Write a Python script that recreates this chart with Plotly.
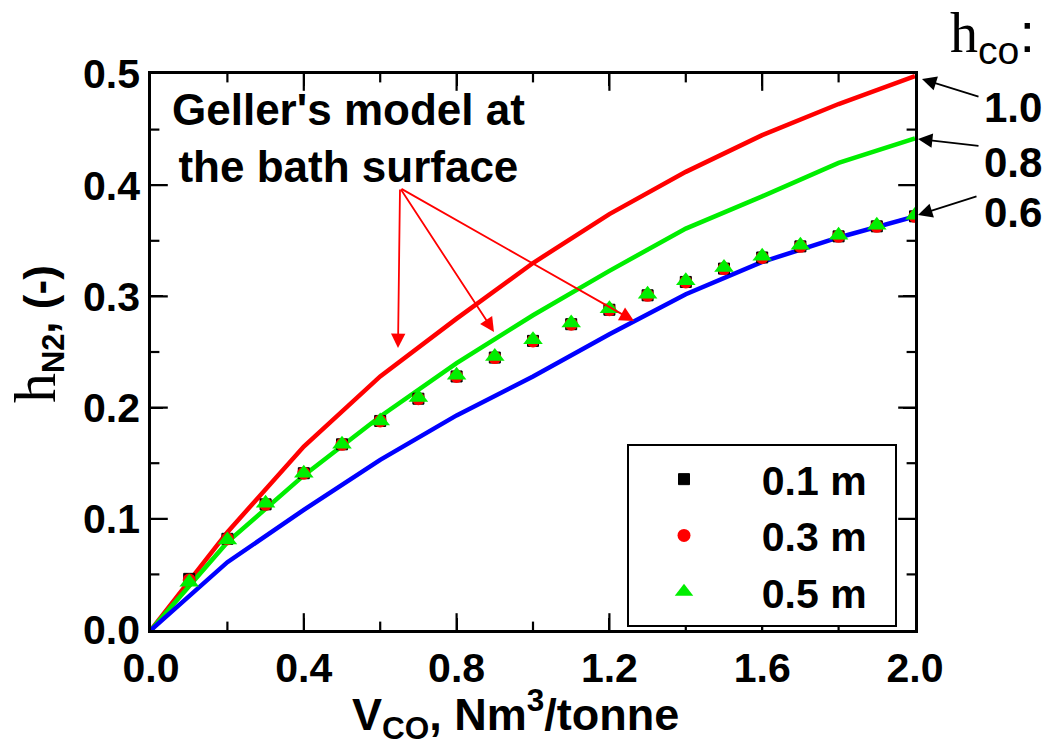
import plotly.graph_objects as go

# ---- data ----
v_line = [0.0, 0.2, 0.4, 0.6, 0.8, 1.0, 1.2, 1.4, 1.6, 1.8, 2.0]
geller_10 = [0.0, 0.088, 0.165, 0.228, 0.280, 0.330, 0.374, 0.412, 0.445, 0.473, 0.498]
geller_08 = [0.0, 0.079, 0.139, 0.192, 0.240, 0.283, 0.323, 0.361, 0.390, 0.420, 0.442]
geller_06 = [0.0, 0.061, 0.108, 0.153, 0.193, 0.228, 0.266, 0.302, 0.331, 0.353, 0.372]

v_pts = [0.1, 0.2, 0.3, 0.4, 0.5, 0.6, 0.7, 0.8, 0.9, 1.0,
         1.1, 1.2, 1.3, 1.4, 1.5, 1.6, 1.7, 1.8, 1.9, 2.0]
h_01m = [0.046, 0.082, 0.113, 0.141, 0.167, 0.188, 0.208, 0.228, 0.245, 0.260,
         0.275, 0.288, 0.301, 0.313, 0.325, 0.335, 0.345, 0.354, 0.363, 0.372]
h_03m = [0.045, 0.082, 0.113, 0.141, 0.167, 0.188, 0.208, 0.228, 0.245, 0.260,
         0.275, 0.288, 0.301, 0.313, 0.325, 0.335, 0.345, 0.354, 0.363, 0.372]
h_05m = [0.043, 0.081, 0.114, 0.141, 0.167, 0.188, 0.209, 0.229, 0.246, 0.261,
         0.276, 0.289, 0.302, 0.314, 0.326, 0.336, 0.346, 0.355, 0.364, 0.373]

x_range = [0.0, 2.0]
y_range = [0.0, 0.5]
x_ticks = [0.0, 0.4, 0.8, 1.2, 1.6, 2.0]
x_minor_ticks = [0.2, 0.6, 1.0, 1.4, 1.8]
y_ticks = [0.0, 0.1, 0.2, 0.3, 0.4, 0.5]
y_minor_ticks = [0.05, 0.15, 0.25, 0.35, 0.45]
hco_labels = ["1.0", "0.8", "0.6"]

SANS = "Liberation Sans, Arial, sans-serif"

fig = go.Figure()

# tick marks on all four sides, drawn as clipped line markers on the axes
def tick_trace(xs, ys, symbol, size):
    return go.Scatter(x=xs, y=ys, mode="markers", showlegend=False, hoverinfo="skip",
                      cliponaxis=True,
                      marker=dict(symbol=symbol, size=size, color="black",
                                  line=dict(color="black", width=2.2)))

for vals, sz in [(x_ticks[1:-1], 24), (x_minor_ticks, 12)]:
    for yv in y_range:
        fig.add_trace(tick_trace(vals, [yv] * len(vals), "line-ns", sz))
for vals, sz in [(y_ticks[1:-1], 24), (y_minor_ticks, 12)]:
    for xv in x_range:
        fig.add_trace(tick_trace([xv] * len(vals), vals, "line-ew", sz))

for ys, col in [(geller_10, "#ff0000"), (geller_08, "#00ee00"), (geller_06, "#0000ff")]:
    fig.add_trace(go.Scatter(x=v_line, y=ys, mode="lines", showlegend=False,
                             line=dict(color=col, width=4.5)))

fig.add_trace(go.Scatter(x=v_pts, y=h_01m, mode="markers", name="0.1 m",
                         marker=dict(symbol="square", size=11, color="black",
                                     line=dict(color="black", width=1))))
fig.add_trace(go.Scatter(x=v_pts, y=h_03m, mode="markers", name="0.3 m",
                         marker=dict(symbol="circle", size=13, color="#ff0000",
                                     line=dict(width=0))))
fig.add_trace(go.Scatter(x=v_pts, y=h_05m, mode="markers", name="0.5 m",
                         marker=dict(symbol="triangle-up", size=17, color="#00ee00",
                                     line=dict(width=0))))

axis_common = dict(
    showline=True, linecolor="black", linewidth=2.5,
    mirror="ticks", ticks="inside", ticklen=12, tickwidth=2, tickcolor="black",
    tickfont=dict(family=SANS, size=41, color="black"),
)

fig.update_xaxes(range=x_range, tickvals=x_ticks,
                 ticktext=[f"<b>{v:.1f}</b>" for v in x_ticks], **axis_common)
fig.update_yaxes(range=y_range, tickvals=y_ticks,
                 ticktext=[f"<b>{v:.1f}</b>" for v in y_ticks], **axis_common)

ann = []
# axis titles
ann.append(dict(xref="paper", yref="paper", x=(515 - 151) / 764, y=(630 - 714) / 556,
                xanchor="center", yanchor="middle", showarrow=False,
                text="<b>V<sub>CO</sub>, Nm<sup>3</sup>/tonne</b>",
                font=dict(family=SANS, size=45, color="black")))
ann.append(dict(xref="paper", yref="paper", x=(36 - 151) / 764, y=(630 - 334) / 556,
                xanchor="center", yanchor="middle", showarrow=False, textangle=-90,
                text='<span style="font-family:Liberation Serif;font-size:60px">h</span>'
                     '<b><sub>N2</sub>, (-)</b>',
                font=dict(family=SANS, size=44, color="black")))
# h_co header
ann.append(dict(xref="paper", yref="paper", x=(992 - 151) / 764, y=(630 - 37) / 556,
                xanchor="center", yanchor="middle", showarrow=False,
                text='<span style="font-family:Liberation Serif">h</span><sub>co</sub>:',
                font=dict(family=SANS, size=56, color="black")))
# right labels
for lab, yc in zip(hco_labels, [108, 162, 212]):
    ann.append(dict(xref="paper", yref="paper", x=(1013 - 151) / 764, y=(630 - yc) / 556,
                    xanchor="center", yanchor="middle", showarrow=False, text=f"<b>{lab}</b>",
                    font=dict(family=SANS, size=42, color="black")))
# black arrows (head px, tail px)
for (hx, hy), (tx, ty) in [((922, 79), (980, 97)), ((918, 139), (980, 146)), ((918, 215), (978, 196))]:
    ann.append(dict(xref="paper", yref="paper", x=(hx - 151) / 764, y=(630 - hy) / 556,
                    ax=tx - hx, ay=ty - hy, text="", showarrow=True, arrowhead=2,
                    arrowsize=1.6, arrowwidth=1.8, arrowcolor="black", standoff=0))
# Geller text
ann.append(dict(xref="paper", yref="paper", x=(348 - 151) / 764, y=(630 - 138) / 556,
                xanchor="center", yanchor="middle", showarrow=False,
                text="<b>Geller's model at<br>the bath surface</b>",
                font=dict(family=SANS, size=44, color="black")))
for hx, hy in [(398, 348), (494, 332), (634, 321)]:
    ann.append(dict(xref="paper", yref="paper", x=(hx - 151) / 764, y=(630 - hy) / 556,
                    ax=400 - hx, ay=188 - hy, text="", showarrow=True, arrowhead=2,
                    arrowsize=1.6, arrowwidth=1.8, arrowcolor="#ff0000", standoff=0))

fig.update_layout(
    template="simple_white",
    width=1051, height=756,
    margin=dict(l=151, r=136, t=74, b=126),
    annotations=ann,
    legend=dict(x=(627 - 151) / 764, y=(630 - 444) / 556, xanchor="left", yanchor="top",
                bordercolor="black", borderwidth=2, bgcolor="white",
                itemwidth=100, tracegroupgap=0,
                font=dict(family=SANS, size=41, color="black")),
)
# pad legend labels so the box width matches
for tr in fig.data:
    if tr.showlegend is not False and tr.name:
        tr.name = "\u00a0\u00a0<b>" + tr.name + "</b>\u00a0\u00a0"

fig.write_html("out.html")
